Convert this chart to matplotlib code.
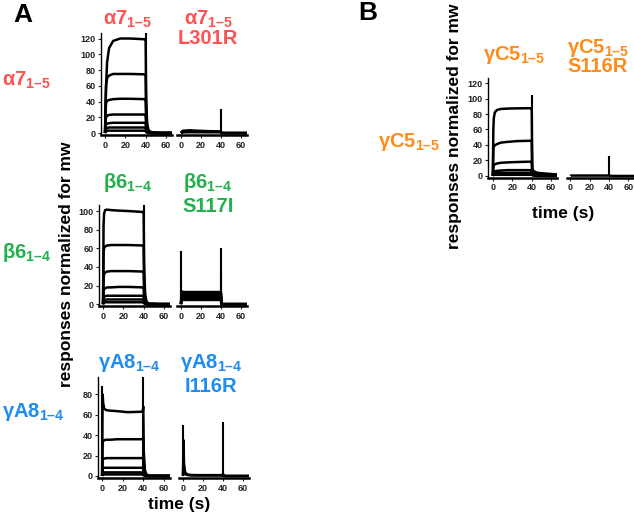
import numpy as np
import matplotlib
matplotlib.use('Agg')
import matplotlib.pyplot as plt

plt.rcParams['font.family'] = ['Liberation Sans', 'DejaVu Sans']
plt.rcParams['font.weight'] = 'bold'
plt.rcParams['mathtext.fontset'] = 'custom'
plt.rcParams['mathtext.rm'] = 'Liberation Sans:bold'
plt.rcParams['mathtext.it'] = 'Liberation Sans:bold'
plt.rcParams['mathtext.bf'] = 'Liberation Sans:bold'
plt.rcParams['mathtext.default'] = 'rm'

W, H = 634, 515

# time grid (s) shared by all sensorgrams
t = [0, 0.5, 1, 2, 4, 8, 15, 25, 39.5, 40, 40.5, 41.5, 43, 46, 55, 66]

# alpha7 1-5 wild type / L301R
a7_wt = [
    [0, 30, 60, 90, 108, 117, 120, 120, 119, 119, 45, 12, 3, 1, 0, 0],
    [0, 40, 60, 70, 73, 75, 75, 75, 74.5, 74.5, 30, 8, 2, 0.5, 0, 0],
    [0, 28, 38, 41, 42, 43, 43.5, 43.5, 43, 43, 18, 5, 1, 0.3, 0, 0],
    [0, 15, 20, 22, 23, 23.5, 23.5, 23.5, 23.5, 23.5, 10, 3, 1, 0, 0, 0],
    [0, 8, 11, 12, 12.5, 13, 13, 13, 13, 13, 5, 1.5, 0.5, 0, 0, 0],
    [0, 4, 6, 6.5, 7, 7, 7, 7, 7, 7, 3, 1, 0.3, 0, 0, 0],
    [0, 2, 2.5, 3, 3, 3, 3, 3, 3, 3, 1.2, 0.4, 0, 0, 0, 0],
]
a7_wt_spk_t, a7_wt_spk_h = [40], [127]
a7_mut = [
    [0, 1, 2, 3, 3, 3.5, 3, 2.5, 2, 2, 0.5, 0, 0, 0, 0, 0],
    [0, 0.5, 1, 1.5, 2, 2, 2, 1.5, 1.5, 1.5, 0.3, 0, 0, 0, 0, 0],
    [0, 0.3, 0.5, 0.8, 1, 1, 1, 1, 1, 1, 0, 0, 0, 0, 0, 0],
]
a7_mut_spk_t, a7_mut_spk_h = [40], [30]

# beta6 1-4 wild type / S117I
b6_wt = [
    [0, 85, 97, 101, 101.5, 101, 100.5, 100, 99, 99, 40, 10, 2, 0.5, 0, 0],
    [0, 55, 60, 62, 63, 63.5, 63.5, 63.5, 63, 63, 25, 6, 1.5, 0.3, 0, 0],
    [0, 28, 32, 34, 35, 35.5, 35.5, 35.5, 35, 35, 14, 3.5, 1, 0, 0, 0],
    [0, 14, 16, 17, 18, 18, 18.5, 18.5, 18, 18, 7, 2, 0.5, 0, 0, 0],
    [0, 7, 8, 8.5, 9, 9, 9, 9, 9, 9, 3.5, 1, 0.3, 0, 0, 0],
    [0, 3.5, 4, 4.5, 5, 5, 5, 5, 5, 5, 2, 0.5, 0, 0, 0, 0],
    [0, 1.5, 2, 2, 2, 2, 2, 2, 2, 2, 0.8, 0.2, 0, 0, 0, 0],
]
b6_wt_spk_t, b6_wt_spk_h = [40], [106.5]
b6_mut = [
    [0, 14, 13.5, 13, 13, 13, 13, 13, 13, 13, 0, 0, 0, 0, 0, 0],
    [0, 11, 11, 11, 11, 11, 11, 11, 11, 11, 0, 0, 0, 0, 0, 0],
    [0, 8.5, 8.5, 8.5, 8.5, 8.5, 8.5, 8.5, 8.5, 8.5, 0, 0, 0, 0, 0, 0],
    [0, 6.5, 6.5, 6.5, 6.5, 6.5, 6.5, 6.5, 6.5, 6.5, 0, 0, 0, 0, 0, 0],
    [0, 4.5, 4.5, 4.5, 4.5, 4.5, 4.5, 4.5, 4.5, 4.5, 0, 0, 0, 0, 0, 0],
]
b6_mut_spk_t, b6_mut_spk_h = [0, 0.4, 40, 40.4], [57, 25, 60, 33]

# gammaA8 1-4 wild type / I116R
ga8_wt = [
    [0, 80, 72, 66, 64.5, 64, 63.5, 62.5, 63, 68, 25, 6, 1.5, 0.3, 0, 0],
    [0, 33, 34, 35, 35.5, 35.5, 36, 36, 36, 36, 14, 3.5, 1, 0, 0, 0],
    [0, 16, 17, 17, 17.5, 17.5, 17.5, 17.5, 17.5, 17.5, 7, 2, 0.5, 0, 0, 0],
    [0, 7, 7.5, 8, 8, 8, 8, 8, 8, 8, 3, 1, 0.3, 0, 0, 0],
    [0, 3, 3.5, 3.5, 3.5, 3.5, 3.5, 3.5, 3.5, 3.5, 1.5, 0.5, 0, 0, 0, 0],
    [0, 1, 1.5, 1.5, 1.5, 1.5, 1.5, 1.5, 1.5, 1.5, 0.5, 0, 0, 0, 0, 0],
]
ga8_wt_spk_t, ga8_wt_spk_h = [0, 40], [88, 97]
ga8_mut = [
    [0, 35, 12, 4, 1.5, 1, 0.8, 0.8, 0.8, 2, 0.5, 0.3, 0, 0, 0, 0],
    [0, 20, 6, 2, 1, 0.5, 0.5, 0.5, 0.5, 1, 0.3, 0, 0, 0, 0, 0],
]
ga8_mut_spk_t, ga8_mut_spk_h = [0, 40], [50, 53]

# gammaC5 1-5 wild type / S116R
gc5_wt = [
    [0, 60, 75, 82, 85, 86.5, 87, 87.3, 87.5, 87.5, 10, 7, 5.5, 4, 3, 2],
    [0, 36, 38, 39.5, 41, 43, 44, 45, 45.5, 45.5, 7, 5, 4, 3, 2, 1.5],
    [0, 12, 14, 15, 16, 17, 17.5, 18, 18.5, 18.5, 5, 4, 3, 2.5, 1.5, 1],
    [0, 5, 5.5, 6, 6.5, 7, 7.5, 7.5, 7.5, 7.5, 3.5, 3, 2.5, 2, 1, 0.5],
    [0, 3, 3.5, 4, 4, 4, 4, 4, 4, 4, 2, 1.5, 1.2, 1, 0.5, 0.3],
    [0, 1, 1.5, 1.5, 1.5, 1.5, 1.5, 1.5, 1.5, 1.5, 1, 0.5, 0.3, 0.2, 0, 0],
]
gc5_wt_spk_t, gc5_wt_spk_h = [40], [105]
gc5_mut = [
    [0, 0.5, 0.5, 0.5, 0.5, 0.5, 0.5, 0.5, 0.5, 0.5, 0.3, 0.2, 0, 0, 0, 0],
]
gc5_mut_spk_t, gc5_mut_spk_h = [40], [26]

RED, GREEN, BLUE, ORANGE = '#ff5252', '#22b14c', '#1e8cf0', '#ff8c1a'


def box(x0, y0, x1, y1):
    return [x0 / W, 1 - y1 / H, (x1 - x0) / W, (y1 - y0) / H]


def panel(rect, curves, spk_t, spk_h, xlim, ylim, yticks, left=True):
    ax = fig.add_axes(box(*rect))
    for c in curves:
        ax.plot(t, c, color='k', lw=1.8, solid_capstyle='butt')
    ax.vlines(spk_t, 0, spk_h, color='k', lw=1.5)
    ax.set_xlim(*xlim)
    ax.set_ylim(*ylim)
    ax.set_xticks([0, 20, 40, 60])
    ax.spines['top'].set_visible(False)
    ax.spines['right'].set_visible(False)
    ax.spines['bottom'].set_linewidth(1.8)
    ax.spines['left'].set_linewidth(1.0)
    ax.tick_params(direction='out', length=2.5, width=0.8, labelsize=6.5, pad=1.5,
                   colors='#222222')
    if left:
        ax.set_yticks(yticks)
    else:
        ax.spines['left'].set_visible(False)
        ax.set_yticks([])
    ax.patch.set_alpha(0)
    return ax


def ftext(x, y, s, **kw):
    fig.text(x / W, 1 - y / H, s, **kw)


fig = plt.figure(figsize=(W / 100, H / 100), dpi=100)

# panel A
panel((101, 33, 172, 135), a7_wt, a7_wt_spk_t, a7_wt_spk_h, (-4, 66), (-2.5, 127), range(0, 121, 20))
panel((177, 33, 247, 135), a7_mut, a7_mut_spk_t, a7_mut_spk_h, (-4, 66), (-2.5, 127), [], left=False)
panel((99, 205, 170, 306), b6_wt, b6_wt_spk_t, b6_wt_spk_h, (-4, 66), (-2, 106.5), range(0, 101, 20))
panel((177, 205, 247, 306), b6_mut, b6_mut_spk_t, b6_mut_spk_h, (-4, 66), (-2, 106.5), [], left=False)
panel((98, 377, 170, 478), ga8_wt, ga8_wt_spk_t, ga8_wt_spk_h, (-4, 66), (-2, 97), range(0, 81, 20))
panel((179, 377, 249, 478), ga8_mut, ga8_mut_spk_t, ga8_mut_spk_h, (-4, 66), (-2, 97), [], left=False)

# panel B
panel((488, 78, 557, 177.5), gc5_wt, gc5_wt_spk_t, gc5_wt_spk_h, (-5, 66), (-2, 126.5), range(0, 121, 20))
panel((567, 78, 634, 177.5), gc5_mut, gc5_mut_spk_t, gc5_mut_spk_h, (-3.5, 66), (-2, 126.5), [], left=False)

ttl = dict(fontsize=14.5, ha='center', va='center')
ftext(23, 15, 'A', fontsize=19, ha='center', va='center')
ftext(368, 13, 'B', fontsize=19, ha='center', va='center')

ftext(127, 19, r'α7$_{1–5}$', color=RED, **ttl)
ftext(208, 19, r'α7$_{1–5}$', color=RED, **ttl)
ftext(208, 38, 'L301R', color=RED, **ttl)
ftext(2, 80, r'α7$_{1–5}$', color=RED, fontsize=14.5, ha='left', va='center')

ftext(128, 183, r'β6$_{1–4}$', color=GREEN, **ttl)
ftext(208, 183, r'β6$_{1–4}$', color=GREEN, **ttl)
ftext(208, 207, 'S117I', color=GREEN, **ttl)
ftext(2, 252, r'β6$_{1–4}$', color=GREEN, fontsize=14.5, ha='left', va='center')

ftext(129, 363, r'γA8$_{1–4}$', color=BLUE, **ttl)
ftext(211, 363, r'γA8$_{1–4}$', color=BLUE, **ttl)
ftext(211, 387, 'I116R', color=BLUE, **ttl)
ftext(2, 412, r'γA8$_{1–4}$', color=BLUE, fontsize=14.5, ha='left', va='center')

ftext(514, 55, r'γC5$_{1–5}$', color=ORANGE, **ttl)
ftext(598, 48, r'γC5$_{1–5}$', color=ORANGE, **ttl)
ftext(598, 67, 'S116R', color=ORANGE, **ttl)
ftext(378, 142, r'γC5$_{1–5}$', color=ORANGE, fontsize=14.5, ha='left', va='center')

ftext(66, 264, 'responses normalized for mw', fontsize=12.5, rotation=90, ha='center', va='center')
ftext(455, 126, 'responses normalized for mw', fontsize=12.5, rotation=90, ha='center', va='center')
ftext(179, 504, 'time (s)', fontsize=12.5, ha='center', va='center')
ftext(563, 213, 'time (s)', fontsize=12.5, ha='center', va='center')

fig.savefig('out.png', dpi=100)
